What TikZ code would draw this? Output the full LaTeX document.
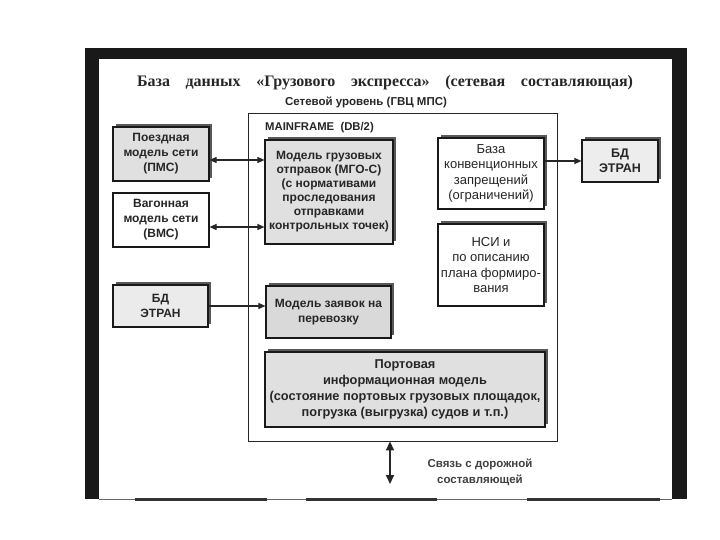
\documentclass[tikz,border=0pt]{standalone}
\usepackage{fontspec}
\setmainfont{Liberation Serif}
\setsansfont{Liberation Sans}
\usetikzlibrary{arrows.meta,shadows}
\begin{document}
\begin{tikzpicture}[x=1pt,y=-1pt,
  txt/.style={font=\sffamily\bfseries\fontsize{12}{15}\selectfont, text=black!85, align=center, inner sep=0},
  box/.style={txt, draw=black!90, line width=1.1pt},
  shbox/.style={box, drop shadow={shadow xshift=3pt, shadow yshift=3pt, fill=black!65, opacity=1}},
  conn/.style={line width=1.1pt, black!85, -{Triangle[length=7pt,width=6pt]}},
  dconn/.style={line width=1.1pt, black!85, {Triangle[length=7pt,width=6pt]}-{Triangle[length=7pt,width=6pt]}},
  bar/.style={fill=black!90, draw=none}]
\useasboundingbox (0,0) rectangle (720,540);
% outer frame
\fill[black!90] (85,48) rectangle (687,59);
\fill[black!90] (85,48) rectangle (99,499);
\fill[black!90] (672,48) rectangle (687,499);
\draw[black!60, line width=1pt] (99,499) -- (672,499);
\fill[black!80] (135,497.5) rectangle (267,501);
\fill[black!80] (306,497.5) rectangle (437,501);
\fill[black!80] (527,497.5) rectangle (660,501);
% titles
\node[inner sep=0, font=\rmfamily\bfseries\fontsize{16}{18}\selectfont, text=black!85] (title) at (385,83)
  {\makebox[496pt][s]{База\hfill данных\hfill «Грузового\hfill экспресса»\hfill (сетевая\hfill составляющая)}};
\node[txt, font=\sffamily\bfseries\fontsize{11.5}{13}\selectfont] (sub) at (366,102) {Сетевой уровень (ГВЦ МПС)};
% mainframe container
\node[draw=black!85, line width=0.9pt, minimum width=309pt, minimum height=328pt, inner sep=0] (main) at (402.5,277) {};
\node[txt, font=\sffamily\bfseries\fontsize{11.3}{13}\selectfont, anchor=west] (mflabel) at (265,128) {MAINFRAME\ \ (DB/2)};
% boxes
\node[shbox, fill=black!12, minimum width=96pt, minimum height=54pt] (pms) at (161,154) {Поездная\\модель сети\\(ПМС)};
\node[box, fill=white, minimum width=96pt, minimum height=54pt] (vms) at (161,220) {Вагонная\\модель сети\\(ВМС)};
\node[shbox, fill=black!8, minimum width=95pt, minimum height=42pt] (etranL) at (160.5,306) {БД\\ЭТРАН};
\node[shbox, fill=black!12, minimum width=128pt, minimum height=104pt, font=\sffamily\bfseries\fontsize{12}{14}\selectfont] (mgo) at (329,192) {Модель грузовых\\отправок (МГО-С)\\(с нормативами\\проследования\\отправками\\контрольных точек)};
\node[shbox, fill=black!15, minimum width=125pt, minimum height=52pt] (zay) at (328.5,312) {Модель заявок на\\перевозку};
\node[shbox, fill=black!12, minimum width=280pt, minimum height=75pt, font=\sffamily\bfseries\fontsize{12.8}{16}\selectfont] (port) at (405,389.5) {Портовая\\информационная модель\\(состояние портовых грузовых площадок,\\погрузка (выгрузка) судов и т.п.)};
\node[shbox, fill=white, minimum width=106pt, minimum height=71pt, font=\sffamily\fontsize{13}{15.5}\selectfont] (baza) at (491,173.5) {База\\конвенционных\\запрещений\\(ограничений)};
\node[shbox, fill=white, minimum width=106pt, minimum height=82pt, font=\sffamily\fontsize{13}{15.5}\selectfont] (nsi) at (491,265) {НСИ и\\по описанию\\плана формиро-\\вания};
\node[shbox, fill=black!7, minimum width=76pt, minimum height=42pt, font=\sffamily\bfseries\fontsize{12.5}{15}\selectfont] (etranR) at (620,161) {БД\\ЭТРАН};
% connectors
\draw[dconn] (pms.east |- 0,160) -- (mgo.west |- 0,160);
\draw[dconn] (vms.east |- 0,227) -- (mgo.west |- 0,227);
\draw[conn] (etranL.east) -- (zay.west |- etranL.east);
\draw[conn] (baza.east |- etranR.west) -- (etranR.west);
\coordinate (bot) at (390,484);
\draw[line width=1.8pt, black!85, {Triangle[length=9pt,width=8pt]}-{Triangle[length=9pt,width=8pt]}] (main.south -| bot) -- (bot);
\node[txt, font=\sffamily\bfseries\fontsize{11.5}{16}\selectfont, text=black!75] (link) at (480,472) {Связь с дорожной\\составляющей};
\end{tikzpicture}
\end{document}
